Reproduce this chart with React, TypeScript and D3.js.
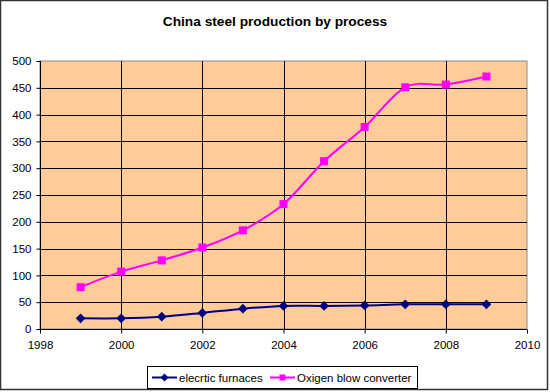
import { useEffect, useRef } from 'react';
import * as d3 from 'd3';

const years = [1999, 2000, 2001, 2002, 2003, 2004, 2005, 2006, 2007, 2008, 2009];
const electricFurnaces = [20, 20, 23, 30, 38, 43, 43, 44, 46, 46, 46];
const oxygenConverter = [78, 107, 128, 152, 184, 233, 313, 377, 451, 456, 471];
const xTicks = [1998, 2000, 2002, 2004, 2006, 2008, 2010];
const yTicks = [0, 50, 100, 150, 200, 250, 300, 350, 400, 450, 500];

const W = 550;
const H = 392;
const FONT = '"Liberation Sans", Arial, sans-serif';

export default function App() {
  const ref = useRef<SVGSVGElement>(null);

  useEffect(() => {
    if (!ref.current) return;
    const svg = d3.select(ref.current);
    svg.selectAll('*').remove();

    const margin = { top: 61, right: 23, bottom: 63, left: 40 };
    const x = d3.scaleLinear().domain([1998, 2010]).range([margin.left, W - margin.right]);
    const y = d3.scaleLinear().domain([0, 500]).range([H - margin.bottom, margin.top]);

    // outer frame
    svg.append('rect')
      .attr('x', 0.5).attr('y', 0.5)
      .attr('width', W - 3).attr('height', H - 3)
      .attr('fill', '#fff')
      .attr('stroke', '#333').attr('stroke-width', 1.5);

    // title
    svg.append('text')
      .attr('x', W / 2).attr('y', 26)
      .attr('text-anchor', 'middle')
      .attr('font-family', FONT)
      .attr('font-size', 13.7)
      .attr('font-weight', 'bold')
      .text('China steel production by process');

    // plot background
    svg.append('rect')
      .attr('x', x(1998)).attr('y', y(500))
      .attr('width', x(2010) - x(1998)).attr('height', y(0) - y(500))
      .attr('fill', '#FFCC99')
      .attr('stroke', '#888').attr('stroke-width', 1);

    // grid
    const grid = svg.append('g').attr('stroke', '#000').attr('stroke-width', 1);
    yTicks.filter(t => t > 0 && t < 500).forEach(t => {
      grid.append('line')
        .attr('x1', x(1998)).attr('x2', x(2010))
        .attr('y1', Math.round(y(t)) + 0.5).attr('y2', Math.round(y(t)) + 0.5);
    });
    xTicks.filter(t => t > 1998 && t < 2010).forEach(t => {
      grid.append('line')
        .attr('x1', Math.round(x(t)) + 0.5).attr('x2', Math.round(x(t)) + 0.5)
        .attr('y1', y(500)).attr('y2', y(0));
    });

    // axes
    const yAxis = svg.append('g')
      .attr('transform', `translate(${Math.round(x(1998)) + 0.5},0)`)
      .call(d3.axisLeft(y).tickValues(yTicks).tickSize(4).tickPadding(5));
    const xAxis = svg.append('g')
      .attr('transform', `translate(0,${Math.round(y(0)) + 0.5})`)
      .call(d3.axisBottom(x).tickValues(xTicks).tickFormat(d3.format('d')).tickSize(4).tickPadding(7));
    [yAxis, xAxis].forEach(a => {
      a.selectAll('text').attr('font-family', FONT).attr('font-size', 11.5).attr('fill', '#000');
      a.selectAll('line').attr('stroke', '#000');
      a.select('.domain').attr('stroke', '#000');
    });
    xAxis.select('.domain').attr('d', `M${x(1998)},0H${x(2010)}`);
    yAxis.select('.domain').attr('d', `M0,${y(0)}V${y(500)}`);

    const line = d3.line<number>()
      .x((_, i) => x(years[i]))
      .y(d => y(d))
      .curve(d3.curveCatmullRom.alpha(0));

    // oxygen converter
    svg.append('path').datum(oxygenConverter)
      .attr('fill', 'none').attr('stroke', '#FF00FF').attr('stroke-width', 2)
      .attr('d', line);
    svg.append('g').selectAll('rect').data(oxygenConverter).join('rect')
      .attr('x', (_, i) => x(years[i]) - 4).attr('y', d => y(d) - 4)
      .attr('width', 8).attr('height', 8)
      .attr('fill', '#FF00FF');

    // electric furnaces
    const diamond = d3.symbol().type(d3.symbolDiamond2).size(60);
    svg.append('path').datum(electricFurnaces)
      .attr('fill', 'none').attr('stroke', '#000080').attr('stroke-width', 2)
      .attr('d', line);
    svg.append('g').selectAll('path').data(electricFurnaces).join('path')
      .attr('transform', (d, i) => `translate(${x(years[i])},${y(d)})`)
      .attr('d', diamond)
      .attr('fill', '#000080');

    // legend
    const lg = svg.append('g');
    lg.append('rect')
      .attr('x', 147.5).attr('y', 366.5).attr('width', 270).attr('height', 22)
      .attr('fill', '#fff').attr('stroke', '#000').attr('stroke-width', 1);
    const items = [
      { label: 'elecrtic furnaces', color: '#000080', x0: 152, marker: 'diamond' },
      { label: 'Oxigen blow converter', color: '#FF00FF', x0: 270, marker: 'square' },
    ];
    items.forEach(it => {
      const cy = 377.5;
      lg.append('line')
        .attr('x1', it.x0).attr('x2', it.x0 + 25).attr('y1', cy).attr('y2', cy)
        .attr('stroke', it.color).attr('stroke-width', 2);
      if (it.marker === 'diamond') {
        lg.append('path').attr('transform', `translate(${it.x0 + 12.5},${cy})`)
          .attr('d', d3.symbol().type(d3.symbolDiamond2).size(40)).attr('fill', it.color);
      } else {
        lg.append('rect').attr('x', it.x0 + 9.5).attr('y', cy - 3).attr('width', 6).attr('height', 6)
          .attr('fill', it.color);
      }
      lg.append('text')
        .attr('x', it.x0 + 27).attr('y', cy + 4)
        .attr('font-family', FONT).attr('font-size', 11.5)
        .text(it.label);
    });
  }, []);

  return (
    <div style={{ position: 'fixed', left: 0, top: 0 }}>
      <svg ref={ref} width={W} height={H} style={{ display: 'block' }} />
    </div>
  );
}
